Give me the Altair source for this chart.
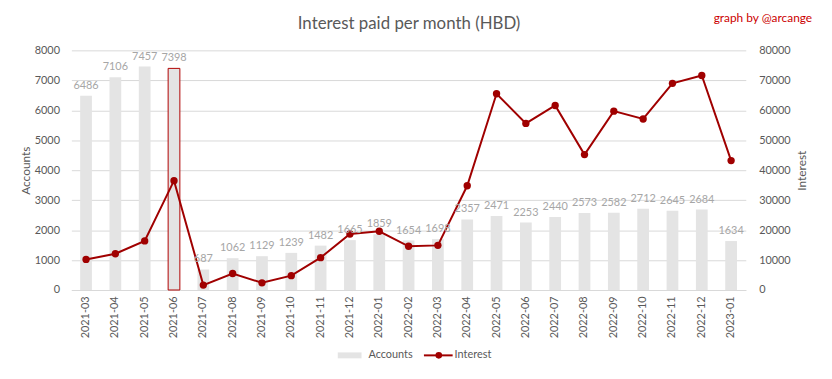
import altair as alt
import pandas as pd

months = ["2021-03", "2021-04", "2021-05", "2021-06", "2021-07", "2021-08", "2021-09", "2021-10",
          "2021-11", "2021-12", "2022-01", "2022-02", "2022-03", "2022-04", "2022-05", "2022-06",
          "2022-07", "2022-08", "2022-09", "2022-10", "2022-11", "2022-12", "2023-01"]
accounts = [6486, 7106, 7457, 7398, 687, 1062, 1129, 1239, 1482, 1665, 1859, 1654, 1698,
            2357, 2471, 2253, 2440, 2573, 2582, 2712, 2645, 2684, 1634]
interest = [10200, 12100, 16400, 36500, 1650, 5500, 2400, 4800, 10800, 18700, 19600, 14600, 14900,
            34800, 65500, 55600, 61600, 45200, 59700, 57100, 69000, 71600, 43200]
highlight = "2021-06"
title_text = "Interest paid per month (HBD)"
credit_text = "graph by @arcange"

df = pd.DataFrame({"month": months, "accounts": accounts, "interest": interest})
df["hl"] = df["month"] == highlight

FONT = "Lato"
GRAY = "#595959"
RED = "#a00000"
BAR = "#e4e4e4"

xenc = alt.X("month:N", sort=months, title=None,
             scale=alt.Scale(paddingInner=0.6, paddingOuter=0.3),
             axis=alt.Axis(labelAngle=-90, labelColor=GRAY, labelFontSize=11, labelFont=FONT,
                           ticks=False, domainColor="#d9d9d9", labelPadding=6, labelBaseline="middle"))

bars = alt.Chart(df).mark_bar(color=BAR, strokeWidth=1).encode(
    x=xenc,
    y=alt.Y("accounts:Q", title="Accounts",
            scale=alt.Scale(domain=[0, 8000], nice=False),
            axis=alt.Axis(orient="left", values=list(range(0, 8001, 1000)), format="d", labelColor=GRAY,
                          labelFontSize=11, labelFont=FONT, ticks=False, domain=False,
                          gridColor="#d9d9d9", labelPadding=12, titleColor=GRAY,
                          titleFont=FONT, titleFontSize=12, titleFontWeight="normal", titlePadding=2)),
    stroke=alt.condition("datum.hl", alt.value("#b00000"), alt.value(None)),
)

line = alt.Chart(df).mark_line(color=RED, strokeWidth=2).encode(
    x=alt.X("month:N", sort=months),
    y=alt.Y("interest:Q", title="Interest",
            scale=alt.Scale(domain=[0, 80000], nice=False),
            axis=alt.Axis(orient="right", values=list(range(0, 80001, 10000)), format="d", labelColor=GRAY,
                          labelFontSize=11, labelFont=FONT, ticks=False, domain=False, grid=False,
                          labelPadding=13, titleColor=GRAY, titleFont=FONT, titleFontSize=12,
                          titleFontWeight="normal", titlePadding=6, titleAngle=-90,
                          titleBaseline="top")),
)

points = alt.Chart(df).mark_point(color=RED, filled=True, size=55, opacity=1).encode(
    x=alt.X("month:N", sort=months),
    y=alt.Y("interest:Q", scale=alt.Scale(domain=[0, 80000], nice=False), axis=None),
)

labels = alt.Chart(df).mark_text(color="#a6a6a6", fontSize=11, font=FONT, baseline="bottom", dy=-5).encode(
    x=alt.X("month:N", sort=months),
    y=alt.Y("accounts:Q", scale=alt.Scale(domain=[0, 8000], nice=False), axis=None),
    text="accounts:Q",
)

one = pd.DataFrame({"k": [0]})
title = alt.Chart(one).mark_text(text=title_text, color=GRAY, fontSize=17, font=FONT,
                                 align="center", baseline="middle").encode(
    x=alt.value(341), y=alt.value(-27))
credit = alt.Chart(one).mark_text(text=credit_text, color="#cc0000", fontSize=12, font=FONT,
                                  align="right", baseline="middle").encode(
    x=alt.value(748), y=alt.value(-33))
leg_rect = alt.Chart(one).mark_rect(color=BAR).encode(
    x=alt.value(269), x2=alt.value(293), y=alt.value(305), y2=alt.value(311))
leg_t1 = alt.Chart(one).mark_text(text="Accounts", color=GRAY, fontSize=11, font=FONT,
                                  align="left", baseline="middle").encode(
    x=alt.value(300), y=alt.value(308))
leg_line = alt.Chart(one).mark_rule(color=RED, strokeWidth=2).encode(
    x=alt.value(356), x2=alt.value(385), y=alt.value(308))
leg_pt = alt.Chart(one).mark_point(color=RED, filled=True, size=45, opacity=1).encode(
    x=alt.value(371), y=alt.value(308))
leg_t2 = alt.Chart(one).mark_text(text="Interest", color=GRAY, fontSize=11, font=FONT,
                                  align="left", baseline="middle").encode(
    x=alt.value(387), y=alt.value(308))

chart = alt.layer(bars, line, points, labels, title, credit, leg_rect, leg_t1, leg_line, leg_pt, leg_t2).resolve_scale(
    y="independent"
).properties(
    width=681, height=242,
    autosize="none",
    padding={"left": 64, "top": 41, "right": 79, "bottom": 78},
).configure_view(stroke=None)

chart.save("out.html", embed_options={"renderer": "svg", "actions": False})
